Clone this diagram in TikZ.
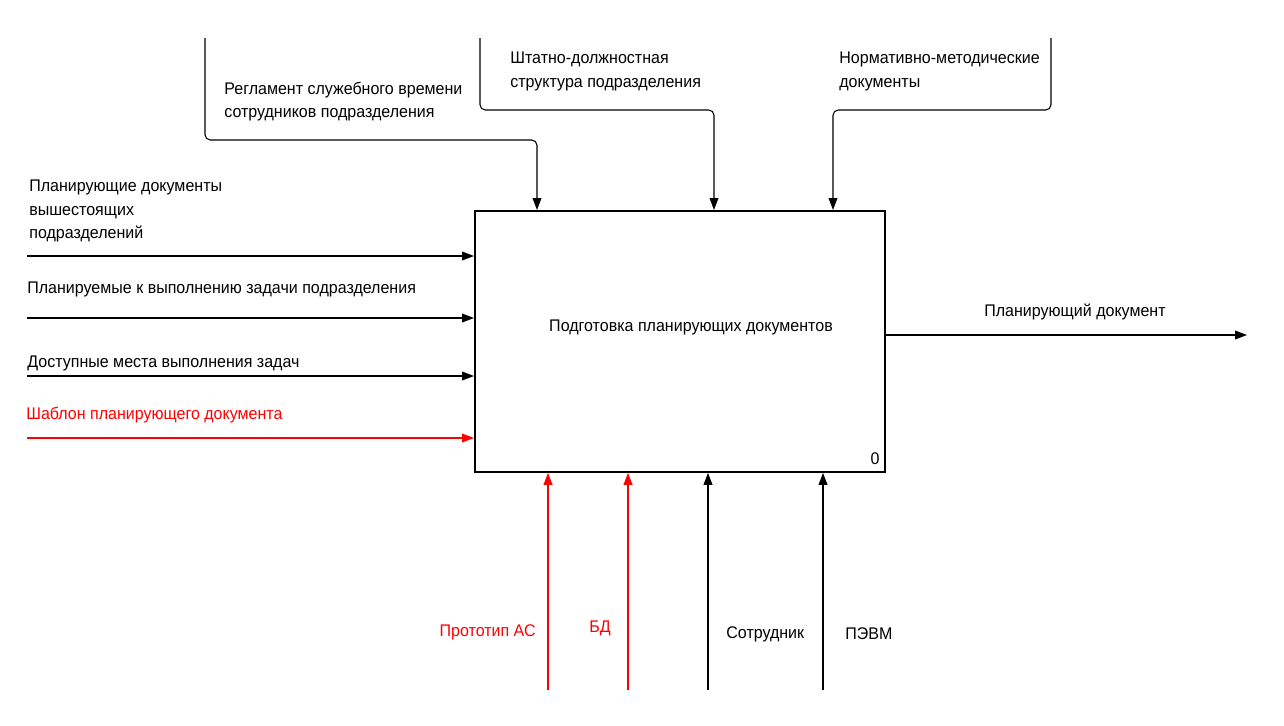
\documentclass[tikz,border=0pt]{standalone}
\usepackage{fontspec}
\setmainfont{Liberation Sans}[FakeStretch=0.95]
\usetikzlibrary{arrows.meta,positioning}

\begin{document}
\begin{tikzpicture}[x=0.02cm,y=-0.02cm,
  arr/.style={-{Triangle[length=6.8pt,width=5pt]},line width=0.6pt},
  lbl/.style={anchor=west,inner sep=0pt,align=left,font=\fontsize{9.6}{13.4}\selectfont},
  hot/.style={red}]
\useasboundingbox (0,0) rectangle (1284,725);
% function block
\node[draw,line width=1.1pt,anchor=north west,minimum width=8.2cm,minimum height=5.22cm,inner sep=0pt] (func) at (474,210) {};
\node[lbl,anchor=center] (title) at (691,327) {Подготовка планирующих документов};
\node[lbl,anchor=center] (num) at (875,459) {0};
% controls
\coordinate [] (reg) at (205,38);
\coordinate [] (sht) at (480,38);
\coordinate [] (nrm) at (1051,38);
\coordinate [] (c1) at (537,210);
\coordinate [] (c2) at (714,210);
\coordinate [] (c3) at (833,210);
\draw[arr,rounded corners=3pt] (reg) |- (537,140) -- (c1);
\draw[arr,rounded corners=3pt] (sht) |- (714,110) -- (c2);
\draw[arr,rounded corners=3pt] (nrm) |- (833,110) -- (c3);
\node[lbl] (regl) at (224,101.5) {Регламент служебного времени\\сотрудников подразделения};
\node[lbl] (shtl) at (510,71.5) {Штатно-должностная\\структура подразделения};
\node[lbl] (nrml) at (839,71.5) {Нормативно-методические\\документы};
% inputs
\coordinate [] (i1) at (27,256);
\coordinate [] (i2) at (27,318);
\coordinate [] (i3) at (27,376);
\coordinate [] (i4) at (27,438);
\draw[arr] (i1) -- (i1 -| func.west);
\draw[arr] (i2) -- (i2 -| func.west);
\draw[arr] (i3) -- (i3 -| func.west);
\draw[arr,hot] (i4) -- (i4 -| func.west);
\node[lbl] (i1l) at (29,211) {Планирующие документы\\вышестоящих\\подразделений};
\node[lbl] (i2l) at (27,289) {Планируемые к выполнению задачи подразделения};
\node[lbl] (i3l) at (27,363) {Доступные места выполнения задач};
\node[lbl,hot] (i4l) at (26,415) {Шаблон планирующего документа};
% output
\coordinate [] (o1) at (1247,335);
\draw[arr] (o1 -| func.east) -- (o1);
\node[lbl,anchor=center] (o1l) at (1075,312) {Планирующий документ};
% mechanisms
\coordinate [] (m1) at (548,690);
\coordinate [] (m2) at (628,690);
\coordinate [] (m3) at (708,690);
\coordinate [] (m4) at (823,690);
\draw[arr,hot] (m1) -- (m1 |- func.south);
\draw[arr,hot] (m2) -- (m2 |- func.south);
\draw[arr] (m3) -- (m3 |- func.south);
\draw[arr] (m4) -- (m4 |- func.south);
\node[lbl,hot,anchor=east] (m1l) at (536,632) {Прототип АС};
\node[lbl,hot,anchor=center] (m2l) at (600,628) {БД};
\node[lbl] (m3l) at (726,634) {Сотрудник};
\node[lbl] (m4l) at (845,634) {ПЭВМ};
\end{tikzpicture}
\end{document}
